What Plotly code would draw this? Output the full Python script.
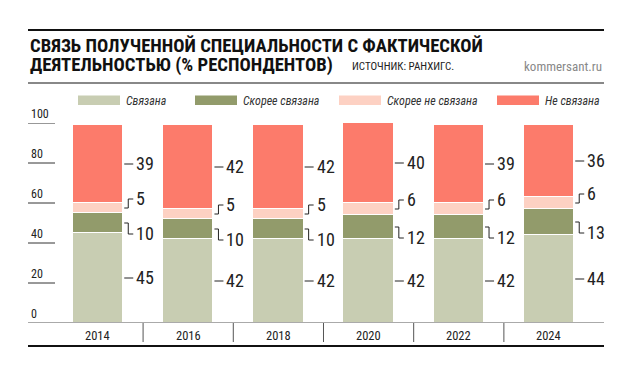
import plotly.graph_objects as go

# ---- data ----
years = ["2014", "2016", "2018", "2020", "2022", "2024"]
svyazana = [45, 42, 42, 42, 42, 44]
skoree_svyazana = [10, 10, 10, 12, 12, 13]
skoree_ne_svyazana = [5, 5, 5, 6, 6, 6]
ne_svyazana = [39, 42, 42, 40, 39, 36]
series_names = ["Связана", "Скорее связана", "Скорее не связана", "Не связана"]
y_ticks = [0, 20, 40, 60, 80, 100]
title_1 = "СВЯЗЬ ПОЛУЧЕННОЙ СПЕЦИАЛЬНОСТИ С ФАКТИЧЕСКОЙ"
title_2 = "ДЕЯТЕЛЬНОСТЬЮ (% РЕСПОНДЕНТОВ)"
source = "ИСТОЧНИК: РАНХИГС."
brand = "kommersant.ru"

series_values = [svyazana, skoree_svyazana, skoree_ne_svyazana, ne_svyazana]
colors = ["#c8cdb2", "#929b6b", "#fdd1c3", "#fc7b6b"]

COND = "Roboto Condensed, Roboto, sans-serif"

# page offset (body margin) and figure size
OFF = 8
FW, FH = 608, 352
# plot area in page pixels
PL, PR, PT, PB = 28, 604, 123, 323
PW = PR - PL
PH = PB - PT


def px(x):
    return (x - PL) / PW


def py(y):
    return (PB - y) / PH


xs = list(range(len(years)))
bar_w = 0.56
x_range = [-0.776, 5.61]

fig = go.Figure()
for name, vals, col in zip(series_names, series_values, colors):
    fig.add_trace(go.Bar(
        x=xs, y=vals, name=name, width=bar_w,
        marker=dict(color=col, line=dict(color="white", width=1.5)),
        showlegend=False, hoverinfo="skip",
    ))

shapes = []
annotations = []

# value labels with leaders
for i in xs:
    bottom = 0
    edge = i + bar_w / 2
    for s, vals in enumerate(series_values):
        v = vals[i]
        mid = bottom + v / 2
        if s in (0, 3):
            shapes.append(dict(type="line", xref="x", yref="y", xsizemode="pixel",
                               xanchor=edge, x0=1, x1=10, y0=mid, y1=mid,
                               line=dict(color="#222", width=1)))
            shift = 0
        else:
            shift = -11 if s == 1 else 9
            shapes.append(dict(type="path", xref="x", yref="y", xsizemode="pixel",
                               ysizemode="pixel", xanchor=edge, yanchor=mid,
                               path=f"M1,0 H5 V{shift} H10",
                               line=dict(color="#222", width=1)))
        annotations.append(dict(x=edge, y=mid, xref="x", yref="y", text=str(v),
                                showarrow=False, xanchor="left", yanchor="middle",
                                xshift=11, yshift=shift + 1,
                                font=dict(family=COND, size=18, color="#222")))
        bottom += v

# y tick labels and short lines
for t in y_ticks:
    annotations.append(dict(x=px(29), y=t, xref="paper", yref="y", text=str(t),
                            showarrow=False, xanchor="left", yanchor="bottom",
                            yshift=0, font=dict(family=COND, size=12, color="#222")))
    if t > 0:
        shapes.append(dict(type="line", xref="paper", yref="y", x0=0, x1=px(55),
                           y0=t, y1=t, line=dict(color="#333", width=1)))

# year labels and separators
for i, yr in zip(xs, years):
    annotations.append(dict(x=i, y=py(335), xref="x", yref="paper", text=yr,
                            showarrow=False, xanchor="center", yanchor="middle",
                            font=dict(family=COND, size=12.5, color="#222")))
for i in xs[:-1]:
    shapes.append(dict(type="line", xref="x", yref="paper", x0=i + 0.5, x1=i + 0.5,
                       y0=0, y1=py(342), line=dict(color="#555", width=1)))

# baseline and bottom rule
shapes.append(dict(type="line", xref="paper", yref="y", x0=0, x1=1, y0=0, y1=0,
                   line=dict(color="#555", width=1)))
shapes.append(dict(type="line", xref="paper", yref="paper", x0=0, x1=1,
                   y0=py(346), y1=py(346), line=dict(color="#111", width=2)))

# header rules
shapes.append(dict(type="line", xref="paper", yref="paper", x0=0, x1=1,
                   y0=py(30), y1=py(30), line=dict(color="#111", width=2)))
shapes.append(dict(type="line", xref="paper", yref="paper", x0=0, x1=1,
                   y0=py(83), y1=py(83), line=dict(color="#888", width=2)))

# titles
annotations.append(dict(x=px(28), y=py(46.5), xref="paper", yref="paper", text=f"<b>{title_1}</b>",
                        showarrow=False, xanchor="left", yanchor="middle",
                        font=dict(family=COND, size=18.7, color="#111")))
annotations.append(dict(x=px(28), y=py(64.5), xref="paper", yref="paper", text=f"<b>{title_2}</b>",
                        showarrow=False, xanchor="left", yanchor="middle",
                        font=dict(family=COND, size=18.7, color="#111")))
annotations.append(dict(x=px(350), y=py(66), xref="paper", yref="paper", text=source,
                        showarrow=False, xanchor="left", yanchor="middle",
                        font=dict(family=COND, size=11, color="#222")))
annotations.append(dict(x=px(604), y=py(66), xref="paper", yref="paper", text=brand,
                        showarrow=False, xanchor="right", yanchor="middle",
                        font=dict(family=COND, size=13, color="#888")))

# legend
legend_x = [78, 195, 339, 497]
for lx, name, col in zip(legend_x, series_names, colors):
    shapes.append(dict(type="rect", xref="paper", yref="paper", x0=px(lx), x1=px(lx + 42),
                       y0=py(105), y1=py(95.5), fillcolor=col, line=dict(width=0)))
    annotations.append(dict(x=px(lx + 46), y=py(100.5), xref="paper", yref="paper",
                            text=f"<i>{name}</i>", showarrow=False, xanchor="left",
                            yanchor="middle", font=dict(family=COND, size=12, color="#333")))

fig.update_layout(
    width=FW, height=FH, barmode="stack",
    margin=dict(l=PL - OFF, r=FW - (PR - OFF), t=PT - OFF, b=FH - (PB - OFF), pad=0),
    paper_bgcolor="white", plot_bgcolor="white",
    xaxis=dict(range=x_range, showticklabels=False, showgrid=False, zeroline=False,
               fixedrange=True),
    yaxis=dict(range=[0, 100], showticklabels=False, showgrid=False, zeroline=False,
               fixedrange=True),
    shapes=shapes, annotations=annotations, bargap=0,
)

fig.write_html("out.html")
